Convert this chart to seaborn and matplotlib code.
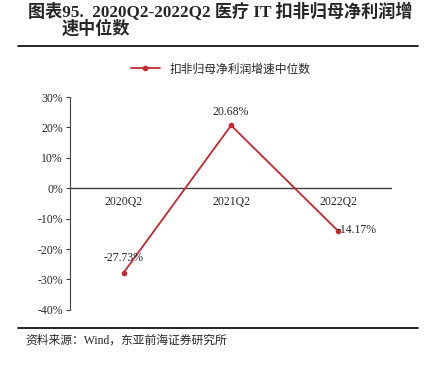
import seaborn as sns
import pandas as pd
import matplotlib.pyplot as plt
from matplotlib.lines import Line2D

quarters = ['2020Q2', '2021Q2', '2022Q2']
growth = [-27.73, 20.68, -14.17]
series_name = '扣非归母净利润增速中位数'
yticks = [-40, -30, -20, -10, 0, 10, 20, 30]

sns.set_theme(style="white")
plt.rcParams['font.family'] = ['Liberation Serif', 'Noto Sans CJK SC', 'DejaVu Sans']

red = '#C8262E'
df = pd.DataFrame({'quarter': quarters, 'growth': growth})
df['pos'] = range(len(df))

fig = plt.figure(figsize=(4.24, 3.65), dpi=100)
ax = fig.add_axes([0.165, 0.151, 0.760, 0.583])

sns.lineplot(data=df, x='pos', y='growth', color=red, marker='o', markersize=4,
             markeredgewidth=0, linewidth=1.3, ax=ax)

ax.set_xlim(-0.5, 2.5)
ax.set_ylim(-40, 30)
ax.set_yticks(yticks)
ax.set_yticklabels([f'{v}%' for v in yticks], fontsize=8.5)
ax.set_xticks([])
ax.set_xlabel('')
ax.set_ylabel('')

for s in ['top', 'right', 'bottom']:
    ax.spines[s].set_visible(False)
ax.spines['left'].set_color('#404040')
ax.spines['left'].set_linewidth(0.8)
ax.tick_params(axis='y', which='both', left=True, length=3, width=0.8, color='#404040', pad=2)
ax.axhline(0, color='#404040', linewidth=1.0, zorder=1)

# category labels just below the zero line
for i, q in enumerate(quarters):
    ax.text(i, -2.5, q, ha='center', va='top', fontsize=8.5)

# value labels
offsets = [(0.0, 4.7), (0.0, 4.5), (0.17, 0.3)]
for i, v in enumerate(growth):
    dx, dy = offsets[i]
    ax.text(i + dx, v + dy, f'{v:.2f}%', ha='center', va='center', fontsize=8.5)

handle = Line2D([], [], color=red, marker='o', markersize=3, linewidth=1.3)
fig.legend([handle], [series_name], loc='center', bbox_to_anchor=(0.52, 0.81),
           frameon=False, fontsize=8.5, handlelength=2.5)

# title and rules
fig.text(0.066, 0.967, '图表95.  2020Q2-2022Q2 医疗 IT 扣非归母净利润增', fontsize=12.3,
         fontweight='bold', va='center', ha='left')
fig.text(0.146, 0.921, '速中位数', fontsize=12.3, fontweight='bold', va='center', ha='left')
fig.add_artist(Line2D([0.042, 0.986], [0.874, 0.874], color='black', linewidth=1.2,
                      transform=fig.transFigure))
fig.add_artist(Line2D([0.042, 0.986], [0.101, 0.101], color='black', linewidth=1.2,
                      transform=fig.transFigure))
fig.text(0.059, 0.068, '资料来源：Wind，东亚前海证券研究所', fontsize=8.5, va='center', ha='left')

fig.savefig('out.png', dpi=100)
